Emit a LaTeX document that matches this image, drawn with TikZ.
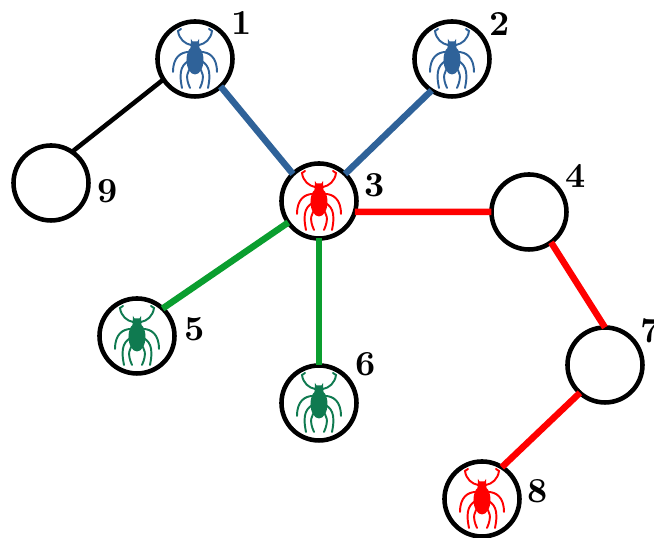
\documentclass[tikz,border=0pt]{standalone}
\definecolor{tickblue}{HTML}{2F6299}
\definecolor{tickgreen}{HTML}{0F7A50}
\definecolor{linkgreen}{HTML}{0A9E2F}
\tikzset{
  bug/.pic={
    \fill[#1] (0,-0.01) ellipse (0.085 and 0.145);
    \fill[#1] (-0.045,0.11) -- (-0.04,0.2) -- (-0.025,0.175) -- (0.025,0.175) -- (0.04,0.2) -- (0.045,0.11) -- cycle;
    \foreach \s in {-1,1} {
      \begin{scope}[xscale=\s,x=0.01cm,y=0.01cm,draw=#1,line width=0.55pt,line cap=round]
        \draw (4,14) .. controls (10,15) and (16,20) .. (17,28) -- (14,30);
        \draw (6,7) .. controls (14,7) and (22,2) .. (22,-13);
        \draw (5,-1) .. controls (12,-5) and (17,-10) .. (13,-29);
        \draw (3,-8) .. controls (8,-12) and (10,-18) .. (5,-29);
      \end{scope}
    }
  }
}
\begin{document}
\begin{tikzpicture}[thick,main node/.style={circle,draw=black,line width=1.3pt,fill=white,inner sep=0pt,outer sep=0pt,minimum size=0.75cm},
  num/.style={font=\fontsize{10}{12}\selectfont\bfseries,inner sep=0pt},
  link/.style={line width=1.85pt}]
  \useasboundingbox (0,0) rectangle (6.54,5.38);

  \node[main node] (1) at (1.95,4.79) {};
  \node[main node] (2) at (4.52,4.79) {};
  \node[main node] (3) at (3.19,3.37) {};
  \node[main node] (4) at (5.29,3.26) {};
  \node[main node] (5) at (1.37,2.02) {};
  \node[main node] (6) at (3.19,1.35) {};
  \node[main node] (7) at (6.05,1.73) {};
  \node[main node] (8) at (4.82,0.39) {};
  \node[main node] (9) at (0.51,3.55) {};

  \node[num] (n1) at (2.42,5.15) {1};
  \node[num] (n2) at (5.00,5.14) {2};
  \node[num] (n3) at (3.75,3.53) {3};
  \node[num] (n4) at (5.76,3.62) {4};
  \node[num] (n5) at (1.95,2.09) {5};
  \node[num] (n6) at (3.66,1.74) {6};
  \node[num] (n7) at (6.51,2.07) {7};
  \node[num] (n8) at (5.38,0.47) {8};
  \node[num] (n9) at (1.08,3.47) {9};

  \pic at (1) {bug=tickblue};
  \pic at (2) {bug=tickblue};
  \pic at (3) {bug=red};
  \pic at (5) {bug=tickgreen};
  \pic at (6) {bug=tickgreen};
  \pic at (8) {bug=red};

  \draw[link,tickblue] (1.-47) -- (3.134);
  \draw[link,tickblue] (2.-123) -- (3.46);
  \draw[link,red] (3.-17) -- (4.180);
  \draw[link,linkgreen] (3.215) -- (5.47);
  \draw[link,linkgreen] (3.-90) -- (6.90);
  \draw[link,red] (4.-54) -- (7.90);
  \draw[link,red] (7.228) -- (8.58);
  \draw[line width=1.3pt] (1.213) -- (9.56);
\end{tikzpicture}
\end{document}
